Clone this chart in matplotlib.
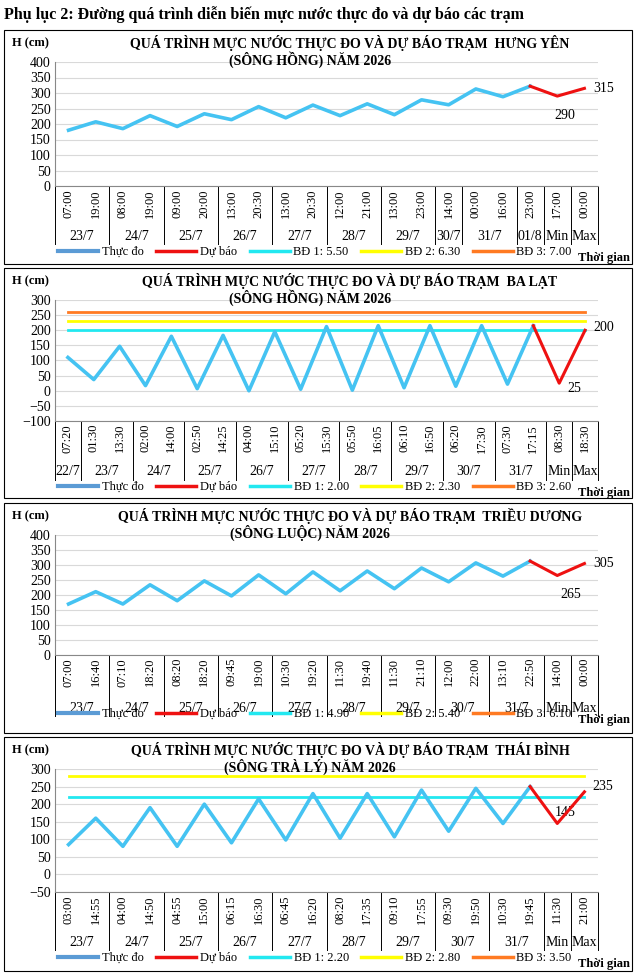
import matplotlib
matplotlib.use("Agg")
import matplotlib.pyplot as plt
from matplotlib.lines import Line2D
from matplotlib.patches import Rectangle

plt.rcParams['font.family'] = ['Liberation Serif', 'DejaVu Serif']

W, H = 636, 974

# ---- data ----
hy_times = ['07:00', '19:00', '08:00', '19:00', '09:00', '20:00', '13:00', '20:30', '13:00', '20:30',
            '12:00', '21:00', '13:00', '23:00', '14:00', '00:00', '16:00', '23:00', '17:00', '00:00']
hy_groups = [('23/7', 2), ('24/7', 2), ('25/7', 2), ('26/7', 2), ('27/7', 2), ('28/7', 2), ('29/7', 2),
             ('30/7', 1), ('31/7', 2), ('01/8', 1), ('Min', 1), ('Max', 1)]
hy_obs = [180, 207, 185, 227, 192, 233, 214, 256, 220, 261, 227, 265, 230, 278, 262, 313, 288, 322]
hy_fc = [290, 315]

bl_times = ['07:20', '01:30', '13:30', '02:00', '14:00', '02:50', '14:25', '04:00', '15:10', '05:20', '15:30',
            '05:50', '16:05', '06:10', '16:50', '06:20', '17:30', '07:30', '17:15', '08:30', '18:30']
bl_groups = [('22/7', 1), ('23/7', 2), ('24/7', 2), ('25/7', 2), ('26/7', 2), ('27/7', 2), ('28/7', 2),
             ('29/7', 2), ('30/7', 2), ('31/7', 2), ('Min', 1), ('Max', 1)]
bl_obs = [110, 37, 147, 17, 180, 7, 183, 0, 195, 5, 212, 2, 215, 10, 215, 15, 215, 22, 215]
bl_fc = [25, 200]

td_times = ['07:00', '16:40', '07:10', '18:20', '08:20', '18:20', '09:45', '19:00', '10:30', '19:20',
            '11:30', '19:40', '11:30', '21:10', '12:00', '22:00', '13:10', '22:50', '14:00', '00:00']
td_groups = [('23/7', 2), ('24/7', 2), ('25/7', 2), ('26/7', 2), ('27/7', 2), ('28/7', 2), ('29/7', 2),
             ('30/7', 2), ('31/7', 2), ('Min', 1), ('Max', 1)]
td_obs = [170, 211, 170, 234, 181, 247, 197, 267, 204, 277, 214, 280, 221, 290, 244, 307, 263, 313]
td_fc = [265, 305]

tb_times = ['03:00', '14:55', '04:00', '14:50', '04:55', '15:00', '06:15', '16:30', '06:45', '16:20',
            '08:20', '17:35', '09:10', '17:55', '09:30', '19:50', '10:30', '19:45', '11:30', '21:00']
tb_groups = td_groups
tb_obs = [85, 160, 80, 190, 80, 200, 90, 215, 98, 230, 103, 230, 107, 240, 123, 245, 145, 250]
tb_fc = [145, 235]

C_OBS = '#45C3F2'
C_FC = '#EE1111'
C_BD1 = '#22E8F0'
C_BD2 = '#FFFF00'
C_BD3 = '#FF7A22'

fig = plt.figure(figsize=(W / 100, H / 100), dpi=100)
fig.text(4 / W, 1 - 15 / H, 'Phụ lục 2: Đường quá trình diễn biến mực nước thực đo và dự báo các trạm',
         fontsize=11.5, fontweight='bold', va='center')


def fx(px):
    return px / W


def fy(py):
    return 1 - py / H


def panel(T, B, top, bot, tbl, leg, station, river, times, groups, obs, fc, ylim, bd, bd_lbl, fc_off):
    fig.add_artist(Rectangle((fx(4), fy(B)), fx(628), (B - T) / H, transform=fig.transFigure,
                             fill=False, edgecolor='black', lw=0.8))
    ax = fig.add_axes([fx(55), fy(bot), fx(598 - 55), (bot - top) / H])
    n = len(times)
    xo = list(range(len(obs)))
    xf = [len(obs) - 1, len(obs), len(obs) + 1]
    for v, c in zip(bd, [C_BD1, C_BD2, C_BD3]):
        if ylim[0] <= v <= ylim[1]:
            ax.plot([0, n - 1], [v, v], color=c, lw=2, zorder=2)
    ax.plot(xo, obs, color=C_OBS, lw=2.6, zorder=3)
    ax.plot(xf, [obs[-1]] + fc, color=C_FC, lw=2.2, zorder=4)
    ax.annotate(str(fc[0]), (xf[1], fc[0]), xytext=fc_off[0], textcoords='offset points',
                fontsize=10, ha='left', va='center')
    ax.annotate(str(fc[1]), (xf[2], fc[1]), xytext=fc_off[1], textcoords='offset points',
                fontsize=10, ha='left', va='center')
    ax.set_xlim(-0.5, n - 0.5)
    ax.set_ylim(*ylim)
    ax.set_yticks(range(ylim[0], ylim[1] + 1, 50))
    ax.tick_params(axis='y', labelsize=10, length=0, pad=3)
    ax.set_xticks([])
    ax.grid(axis='y', color='#D9D9D9', lw=0.8)
    ax.set_axisbelow(True)
    for s in ['top', 'right']:
        ax.spines[s].set_visible(False)
    ax.spines['left'].set_color('#888888')
    ax.spines['bottom'].set_color('#888888')

    h = bot - top
    tr = ax.get_xaxis_transform()
    for i, t in enumerate(times):
        ax.text(i, -3 / h, t, rotation=90, ha='center', va='top', fontsize=9, transform=tr)
    edges = [-0.5]
    pos = -0.5
    for g, k in groups:
        ax.text(pos + k / 2, -(tbl - bot - 8) / h, g, ha='center', va='center', fontsize=10, transform=tr)
        pos += k
        edges.append(pos)
    for e in edges:
        ax.plot([e, e], [0, -(tbl - bot) / h], color='black', lw=0.7, transform=tr, clip_on=False)

    fig.text(fx(12), fy(T + 13), 'H (cm)', fontsize=9, fontweight='bold', va='center')
    fig.text(fx(350), fy(T + 13), 'QUÁ TRÌNH MỰC NƯỚC THỰC ĐO VÀ DỰ BÁO TRẠM  ' + station,
             fontsize=10, fontweight='bold', ha='center', va='center')
    fig.text(fx(310), fy(T + 30), '(' + river + ') NĂM 2026', fontsize=10, fontweight='bold',
             ha='center', va='center')
    fig.text(fx(630), fy(leg + 6), 'Thời gian', fontsize=9, fontweight='bold', ha='right', va='center')
    handles = [Line2D([], [], color='#5B9BD5', lw=3), Line2D([], [], color=C_FC, lw=2.5),
               Line2D([], [], color=C_BD1, lw=2.5), Line2D([], [], color=C_BD2, lw=2.5),
               Line2D([], [], color=C_BD3, lw=2.5)]
    labels = ['Thực đo', 'Dự báo'] + bd_lbl
    fig.legend(handles, labels, loc='center', bbox_to_anchor=(fx(315), fy(leg)), ncol=5, frameon=False,
               fontsize=9, handlelength=3.2, columnspacing=1.0, handletextpad=0.3)


panel(30, 264, 62, 186, 244, 252, 'HƯNG YÊN', 'SÔNG HỒNG', hy_times, hy_groups, hy_obs, hy_fc,
      (0, 400), [550, 630, 700], ['BĐ 1: 5.50', 'BĐ 2: 6.30', 'BĐ 3: 7.00'], [(-2, -14), (6, 0)])
panel(268, 498, 300, 421, 480, 487, 'BA LẠT', 'SÔNG HỒNG', bl_times, bl_groups, bl_obs, bl_fc,
      (-100, 300), [200, 230, 260], ['BĐ 1: 2.00', 'BĐ 2: 2.30', 'BĐ 3: 2.60'], [(6, -4), (6, 2)])
panel(503, 733, 535, 655, 716, 714, 'TRIỀU DƯƠNG', 'SÔNG LUỘC', td_times, td_groups, td_obs, td_fc,
      (0, 400), [490, 540, 610], ['BĐ 1: 4.90', 'BĐ 2: 5.40', 'BĐ 3: 6.10'], [(2, -14), (6, 0)])
panel(737, 971, 769, 892, 950, 958, 'THÁI BÌNH', 'SÔNG TRÀ LÝ', tb_times, tb_groups, tb_obs, tb_fc,
      (-50, 300), [220, 280, 350], ['BĐ 1: 2.20', 'BĐ 2: 2.80', 'BĐ 3: 3.50'], [(-2, 8), (6, 4)])

fig.savefig('out.png', dpi=100)
